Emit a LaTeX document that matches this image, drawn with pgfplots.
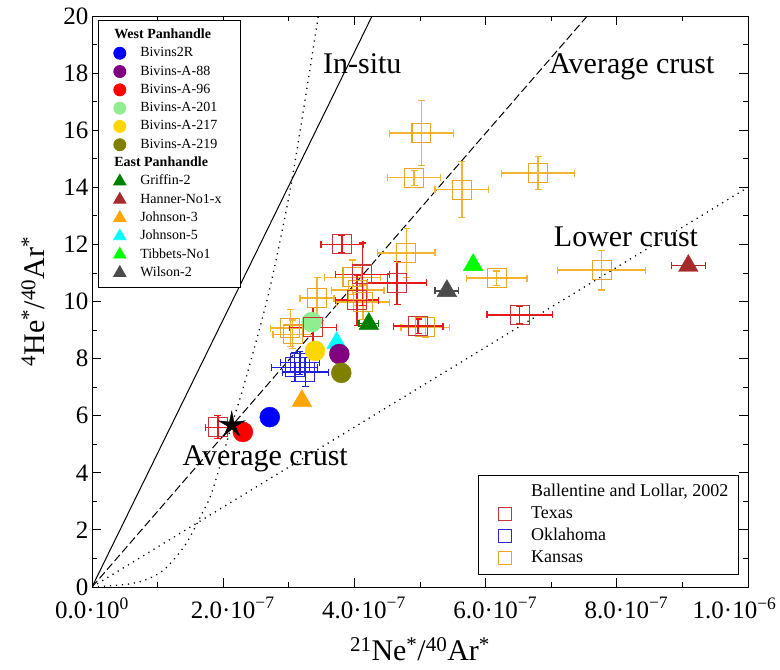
\documentclass[border=0pt]{standalone}
\usepackage{pgfplots}
\pgfplotsset{compat=1.18}
\usepackage{pgfplotstable}
\usepackage{fontspec}
\setmainfont{Liberation Serif}

\definecolor{cBivR}{RGB}{0,0,255}
\definecolor{cB88}{RGB}{128,0,128}
\definecolor{cB96}{RGB}{255,0,0}
\definecolor{cB201}{RGB}{144,238,144}
\definecolor{cB217}{RGB}{255,215,0}
\definecolor{cB219}{RGB}{128,128,0}
\definecolor{cGrif}{RGB}{0,128,0}
\definecolor{cHan}{RGB}{165,42,42}
\definecolor{cJ3}{RGB}{255,165,0}
\definecolor{cJ5}{RGB}{0,255,255}
\definecolor{cTib}{RGB}{0,255,0}
\definecolor{cWil}{RGB}{75,75,75}
\definecolor{texEdge}{RGB}{200,55,55}
\definecolor{texErr}{RGB}{230,25,25}
\definecolor{kanEdge}{RGB}{232,165,40}
\definecolor{kanErr}{RGB}{242,180,50}
\definecolor{okEdge}{RGB}{40,40,210}
\definecolor{okErr}{RGB}{30,30,220}

\pgfdeclareplotmark{thinstar}{%
  \pgfpathmoveto{\pgfpointpolar{90}{\pgfplotmarksize}}%
  \pgfpathlineto{\pgfpointpolar{126}{0.28\pgfplotmarksize}}%
  \pgfpathlineto{\pgfpointpolar{162}{\pgfplotmarksize}}%
  \pgfpathlineto{\pgfpointpolar{198}{0.28\pgfplotmarksize}}%
  \pgfpathlineto{\pgfpointpolar{234}{\pgfplotmarksize}}%
  \pgfpathlineto{\pgfpointpolar{270}{0.28\pgfplotmarksize}}%
  \pgfpathlineto{\pgfpointpolar{306}{\pgfplotmarksize}}%
  \pgfpathlineto{\pgfpointpolar{342}{0.28\pgfplotmarksize}}%
  \pgfpathlineto{\pgfpointpolar{18}{\pgfplotmarksize}}%
  \pgfpathlineto{\pgfpointpolar{54}{0.28\pgfplotmarksize}}%
  \pgfpathclose
  \pgfusepathqfillstroke}

% x in units of 1e-7
\pgfplotstableread{
x y ex ey
5.02 15.90 0.49 1.15
4.91 14.33 0.40 0.26
5.64 13.91 0.41 0.98
6.80 14.50 0.56 0.58
4.79 11.70 0.44 0.85
6.17 10.82 0.46 0.25
7.77 11.10 0.67 0.70
3.43 10.12 0.26 0.73
3.02 9.07 0.30 0.64
3.06 8.85 0.30 0.50
3.97 10.85 0.43 0.60
4.05 10.40 0.40 0.55
4.13 9.98 0.40 0.60
5.08 9.10 0.37 0.35
}\kansas
\pgfplotstableread{
x y ex ey
3.81 12.01 0.32 0.30
4.12 10.95 0.41 1.10
4.65 10.65 0.45 0.75
4.04 10.05 0.33 0.88
3.37 9.10 0.36 0.70
4.97 9.14 0.38 0.25
1.92 5.60 0.19 0.40
6.52 9.53 0.50 0.30
}\texas
\pgfplotstableread{
x y ex ey
3.09 7.70 0.35 0.50
3.25 7.53 0.35 0.50
3.17 7.85 0.30 0.40
}\oklahoma

\pgfplotsset{
  sqstyle/.style 2 args={only marks, mark=square, mark size=9.4pt, color=#1, line width=1.2pt,
    error bars/.cd, x dir=both, x explicit, y dir=both, y explicit,
    error bar style={line width=1.2pt, color=#2},
    error mark options={rotate=90, line width=1.2pt, color=#2, mark size=3.5pt}},
  tristyle/.style={only marks, mark=triangle*, mark size=11.3pt, color=#1,
    error bars/.cd, x dir=both, x explicit,
    error bar style={line width=1.2pt, color=#1},
    error mark options={rotate=90, line width=1.2pt, color=#1, mark size=3.5pt}},
}

\begin{document}
\begin{tikzpicture}[x=1pt,y=1pt]
\path[use as bounding box] (0,0) rectangle (780,670);
\begin{axis}[
  at={(92pt,83pt)}, anchor=south west, scale only axis,
  width=656pt, height=571pt,
  xmin=0, xmax=10, ymin=0, ymax=20,
  xtick={0,2,4,6,8,10},
  xticklabels={0.0·10\textsuperscript{0},
               2.0·10\rlap{\textsuperscript{−7}},
               4.0·10\rlap{\textsuperscript{−7}},
               6.0·10\rlap{\textsuperscript{−7}},
               8.0·10\rlap{\textsuperscript{−7}},
               \hspace*{-46pt}1.0·10\rlap{\textsuperscript{−6}}},
  ytick={0,2,...,20},
  minor x tick num=1, minor y tick num=1,
  major tick length=9pt, minor tick length=5pt,
  tick style={black, line width=0.8pt},
  axis line style={line width=0.9pt},
  tick label style={font=\fontsize{25}{28}\selectfont},
  xticklabel style={yshift=-7pt},
  /pgf/number format/assume math mode=true,
  xlabel={\textsuperscript{21}Ne\textsuperscript{*}/\textsuperscript{40}Ar\textsuperscript{*}},
  ylabel={\textsuperscript{4}He\textsuperscript{*}/\textsuperscript{40}Ar\textsuperscript{*}},
  label style={font=\fontsize{30}{34}\selectfont},
  xlabel style={yshift=-12pt},
  ylabel style={yshift=12pt},
  legend cell align=left,
  legend style={at={(axis description cs:0.009,0.993)}, anchor=north west,
    draw=black, line width=0.9pt, inner xsep=3pt, inner ysep=6pt,
    font=\fontsize{14}{16}\selectfont, row sep=1.3pt,
    nodes={inner sep=2pt, text height=10pt, text depth=3pt}},
  legend image code/.code={\path (-18pt,0pt) (18pt,0pt); \draw[#1] plot coordinates {(0pt,0pt)};},
]
% model lines
\addplot[black, line width=1pt, forget plot] coordinates {(0,0) (4.27,20)};
\addplot[black, line width=1pt, dash pattern=on 8pt off 3.5pt, forget plot] coordinates {(0,0) (7.55,20)};
\addplot[black, line width=1.3pt, dash pattern=on 1.2pt off 4.8pt, forget plot] coordinates {(0,0) (10,14.0)};
\addplot[black, line width=1.3pt, dash pattern=on 1.2pt off 4.8pt, smooth, forget plot] coordinates {
(0,0) (0.55,0.10) (0.85,0.28) (1.11,0.63) (1.42,1.47) (1.69,2.63) (1.84,3.40)
(2.13,5.67) (2.32,7.10) (2.68,10.16) (2.97,13.3) (3.16,15.8) (3.45,20)};

% Bivins-A-201 behind the squares
\addplot[forget plot, only marks, mark=*, mark size=10pt, color=cB201] coordinates {(3.35,9.28)};

% Ballentine and Lollar 2002
\addplot[forget plot, sqstyle={kanEdge}{kanErr}] table[x=x, y=y, x error=ex, y error=ey] {\kansas};
\addplot[forget plot, sqstyle={texEdge}{texErr}] table[x=x, y=y, x error=ex, y error=ey] {\texas};
\addplot[forget plot, sqstyle={okEdge}{okErr}] table[x=x, y=y, x error=ex, y error=ey] {\oklahoma};

% East Panhandle
\addplot[forget plot, tristyle=cGrif] coordinates {(4.22,9.22) +- (0.15,0)};
\addplot[forget plot, tristyle=cHan] coordinates {(9.09,11.25) +- (0.26,0)};
\addplot[forget plot, tristyle=cJ3] coordinates {(3.20,6.52) +- (0,0)};
\addplot[forget plot, tristyle=cJ5] coordinates {(3.73,8.55) +- (0,0)};
\addplot[forget plot, tristyle=cTib] coordinates {(5.81,11.28) +- (0,0)};
\addplot[forget plot, tristyle=cWil] coordinates {(5.41,10.37) +- (0.18,0)};

% West Panhandle
\addplot[forget plot, only marks, mark=*, mark size=10pt, color=cBivR] coordinates {(2.71,5.95)};
\addplot[forget plot, only marks, mark=*, mark size=10pt, color=cB88] coordinates {(3.77,8.16)};
\addplot[forget plot, only marks, mark=*, mark size=10pt, color=cB96] coordinates {(2.30,5.43)};
\addplot[forget plot, only marks, mark=*, mark size=10pt, color=cB217] coordinates {(3.40,8.27)};
\addplot[forget plot, only marks, mark=*, mark size=10pt, color=cB219] coordinates {(3.80,7.50)};

% average crust star
\addplot[forget plot, only marks, mark=thinstar, mark size=14pt, color=black] coordinates {(2.13,5.67)};

% annotations
\node[font=\fontsize{30}{34}\selectfont, anchor=base] at (axis cs:4.12,18.0) {In-situ};
\node[font=\fontsize{30}{34}\selectfont, anchor=base] at (axis cs:8.23,18.0) {Average crust};
\node[font=\fontsize{30}{34}\selectfont, anchor=base] at (axis cs:8.14,11.91) {Lower crust};
\node[font=\fontsize{30}{34}\selectfont, anchor=base] at (axis cs:2.64,4.27) {Average crust};

% legend 1
\addlegendimage{empty legend}\addlegendentry{\hspace*{-26pt}\textbf{West Panhandle}}
\addlegendimage{only marks, mark=*, mark size=6pt, color=cBivR}\addlegendentry{Bivins2R}
\addlegendimage{only marks, mark=*, mark size=6pt, color=cB88}\addlegendentry{Bivins-A-88}
\addlegendimage{only marks, mark=*, mark size=6pt, color=cB96}\addlegendentry{Bivins-A-96}
\addlegendimage{only marks, mark=*, mark size=6pt, color=cB201}\addlegendentry{Bivins-A-201}
\addlegendimage{only marks, mark=*, mark size=6pt, color=cB217}\addlegendentry{Bivins-A-217}
\addlegendimage{only marks, mark=*, mark size=6pt, color=cB219}\addlegendentry{Bivins-A-219}
\addlegendimage{empty legend}\addlegendentry{\hspace*{-26pt}\textbf{East Panhandle}}
\addlegendimage{only marks, mark=triangle*, mark size=7pt, color=cGrif}\addlegendentry{Griffin-2}
\addlegendimage{only marks, mark=triangle*, mark size=7pt, color=cHan}\addlegendentry{Hanner-No1-x\hspace*{14pt}}
\addlegendimage{only marks, mark=triangle*, mark size=7pt, color=cJ3}\addlegendentry{Johnson-3}
\addlegendimage{only marks, mark=triangle*, mark size=7pt, color=cJ5}\addlegendentry{Johnson-5}
\addlegendimage{only marks, mark=triangle*, mark size=7pt, color=cTib}\addlegendentry{Tibbets-No1}
\addlegendimage{only marks, mark=triangle*, mark size=7pt, color=cWil}\addlegendentry{Wilson-2}
\end{axis}

\begin{axis}[
  at={(92pt,83pt)}, anchor=south west, scale only axis,
  width=656pt, height=571pt,
  xmin=0, xmax=10, ymin=0, ymax=20, hide axis,
  legend cell align=left,
  legend style={at={(axis description cs:0.986,0.196)}, anchor=north east,
    draw=black, line width=0.9pt, inner xsep=3pt, inner ysep=6.5pt,
    font=\fontsize{18}{21}\selectfont, row sep=2pt,
    nodes={inner sep=2pt, text height=12pt, text depth=4pt}},
  legend image code/.code={\path (-23pt,0pt) (24pt,0pt); \draw[#1] plot coordinates {(0pt,0pt)};},
]
\addlegendimage{empty legend}\addlegendentry{Ballentine and Lollar, 2002\hspace*{5pt}}
\addlegendimage{only marks, mark=square, mark size=6.5pt, line width=1pt, color=texEdge}\addlegendentry{Texas}
\addlegendimage{only marks, mark=square, mark size=6.5pt, line width=1pt, color=okEdge}\addlegendentry{Oklahoma}
\addlegendimage{only marks, mark=square, mark size=6.5pt, line width=1pt, color=kanEdge}\addlegendentry{Kansas}
\end{axis}
\end{tikzpicture}
\end{document}
